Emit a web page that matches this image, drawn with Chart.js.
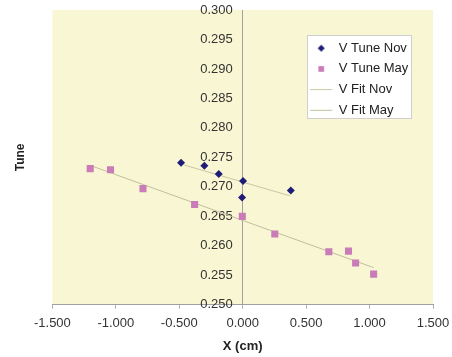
<!DOCTYPE html>
<html>
<head>
<meta charset="utf-8">
<script src="https://cdn.jsdelivr.net/npm/chart.js@4/dist/chart.umd.min.js"></script>
<style>
  html, body { margin: 0; padding: 0; background: #fff; }
  #wrap { width: 452px; height: 357px; }
</style>
</head>
<body>
<div id="wrap"><canvas id="tuneChart" width="452" height="357"></canvas></div>
<script>
const novX = [-0.486, -0.302, -0.189, 0.003, -0.005, 0.379];
const novY = [0.2741, 0.2736, 0.2722, 0.2710, 0.2682, 0.2694];
const mayX = [-1.202, -1.042, -0.786, -0.379, -0.003, 0.253, 0.679, 0.834, 0.890, 1.032];
const mayY = [0.2731, 0.2729, 0.2697, 0.2670, 0.2650, 0.2620, 0.2590, 0.2591, 0.2571, 0.2552];
// fit line end points
const fitNovX = [-0.46, 0.37];
const fitNovY = [0.2737, 0.2685];
const fitMayX = [-1.184, 1.032];
const fitMayY = [0.2735, 0.2563];
// axis ranges
const xMin = -1.5, xMax = 1.5, xStep = 0.5;
const yMin = 0.25, yMax = 0.30, yStep = 0.005;

const toPoints = (xs, ys) => xs.map((x, i) => ({ x: x, y: ys[i] }));

const FONT = '"Liberation Sans", Arial, sans-serif';
const NOV_COLOR = '#1f1c78';
const MAY_COLOR = '#c97cb8';

// small canvas with one marker, so legend symbols keep their shape
function markerIcon(style, radius, color) {
    const size = Math.ceil(radius * 2) + 2;
    const c = document.createElement('canvas');
    c.width = size; c.height = size;
    const cx = c.getContext('2d');
    cx.fillStyle = color;
    cx.strokeStyle = color;
    cx.lineWidth = 0;
    Chart.helpers.drawPoint(cx, { pointStyle: style, radius: radius, borderWidth: 0 }, size / 2, size / 2);
    return c;
}

// plot background + legend box, and moves the legend into the top right corner
const excelLook = {
    id: 'excelLook',
    afterLayout(chart) {
        const lg = chart.legend;
        const w = lg.width, h = lg.height;
        lg.left = 302.5; lg.top = 34;
        lg.right = lg.left + w; lg.bottom = lg.top + h;
    },
    beforeDraw(chart) {
        const { ctx, chartArea: a } = chart;
        ctx.save();
        ctx.fillStyle = '#f9f7d3';
        ctx.fillRect(a.left, a.top, a.right - a.left, a.bottom - a.top);
        // legend frame
        ctx.fillStyle = '#ffffff';
        ctx.strokeStyle = '#cfcfcf';
        ctx.lineWidth = 1;
        ctx.fillRect(307, 35, 104, 83);
        ctx.strokeRect(307.5, 35.5, 104, 83);
        ctx.restore();
    }
};

const legendIcons = [
    markerIcon('rectRot', 3.5, NOV_COLOR),
    markerIcon('rect', 4, MAY_COLOR)
];

new Chart(document.getElementById('tuneChart').getContext('2d'), {
    type: 'scatter',
    data: {
        datasets: [
            {
                label: 'V Tune Nov',
                data: toPoints(novX, novY),
                pointStyle: 'rectRot',
                pointRadius: 4,
                backgroundColor: NOV_COLOR,
                borderColor: NOV_COLOR,
                borderWidth: 0
            },
            {
                label: 'V Tune May',
                data: toPoints(mayX, mayY),
                pointStyle: 'rect',
                pointRadius: 5,
                backgroundColor: MAY_COLOR,
                borderColor: MAY_COLOR,
                borderWidth: 0
            },
            {
                label: 'V Fit Nov',
                data: toPoints(fitNovX, fitNovY),
                showLine: true,
                pointRadius: 0,
                pointStyle: 'line',
                borderColor: '#c9c7a2',
                backgroundColor: '#c9c7a2',
                borderWidth: 1
            },
            {
                label: 'V Fit May',
                data: toPoints(fitMayX, fitMayY),
                showLine: true,
                pointRadius: 0,
                pointStyle: 'line',
                borderColor: '#c2c09c',
                backgroundColor: '#c2c09c',
                borderWidth: 1
            }
        ]
    },
    options: {
        responsive: false,
        animation: false,
        devicePixelRatio: 1,
        layout: { padding: { left: 8, right: 19, top: 10, bottom: 1 } },
        plugins: {
            legend: {
                position: 'chartArea',
                align: 'start',
                labels: {
                    usePointStyle: true,
                    pointStyleWidth: 22,
                    boxHeight: 6,
                    padding: 7.7,
                    color: '#222',
                    font: { family: FONT, size: 13 },
                    generateLabels(chart) {
                        const items = Chart.defaults.plugins.legend.labels.generateLabels(chart);
                        items.forEach(item => {
                            if (legendIcons[item.datasetIndex]) {
                                item.pointStyle = legendIcons[item.datasetIndex];
                            }
                        });
                        return items;
                    }
                }
            },
            tooltip: { enabled: false }
        },
        scales: {
            x: {
                type: 'linear',
                min: xMin,
                max: xMax,
                afterFit(scale) {
                    // keep the right edge where Excel puts it
                    scale.paddingLeft = 17;
                    scale.paddingRight = 17;
                },
                border: { display: true, color: '#a0a0a0' },
                grid: {
                    color: c => (c.tick && c.tick.value === 0 ? '#a0a0a0' : 'rgba(0,0,0,0)'),
                    tickColor: '#b0b0b0',
                    tickLength: 4
                },
                ticks: {
                    stepSize: xStep,
                    padding: 7,
                    color: '#333',
                    font: { family: FONT, size: 13 },
                    callback: v => Number(v).toFixed(3)
                },
                title: {
                    display: true,
                    text: 'X (cm)',
                    color: '#222',
                    font: { family: FONT, size: 13, weight: 'bold' },
                    padding: { top: 0, bottom: 2 }
                }
            },
            y: {
                type: 'linear',
                position: { x: -0.079 },
                min: yMin,
                max: yMax,
                border: { display: false },
                grid: { display: false, drawTicks: false },
                ticks: {
                    stepSize: yStep,
                    padding: 0,
                    color: '#333',
                    font: { family: FONT, size: 13 },
                    callback: v => Number(v).toFixed(3)
                }
            },
            yTitle: {
                type: 'linear',
                position: 'left',
                min: yMin,
                max: yMax,
                border: { display: false },
                grid: { display: false, drawTicks: false },
                ticks: { display: false },
                title: {
                    display: true,
                    text: 'Tune',
                    color: '#222',
                    font: { family: FONT, size: 12, weight: 'bold' },
                    padding: { top: 5, bottom: 25 }
                }
            }
        }
    },
    plugins: [excelLook]
});
</script>
</body>
</html>
